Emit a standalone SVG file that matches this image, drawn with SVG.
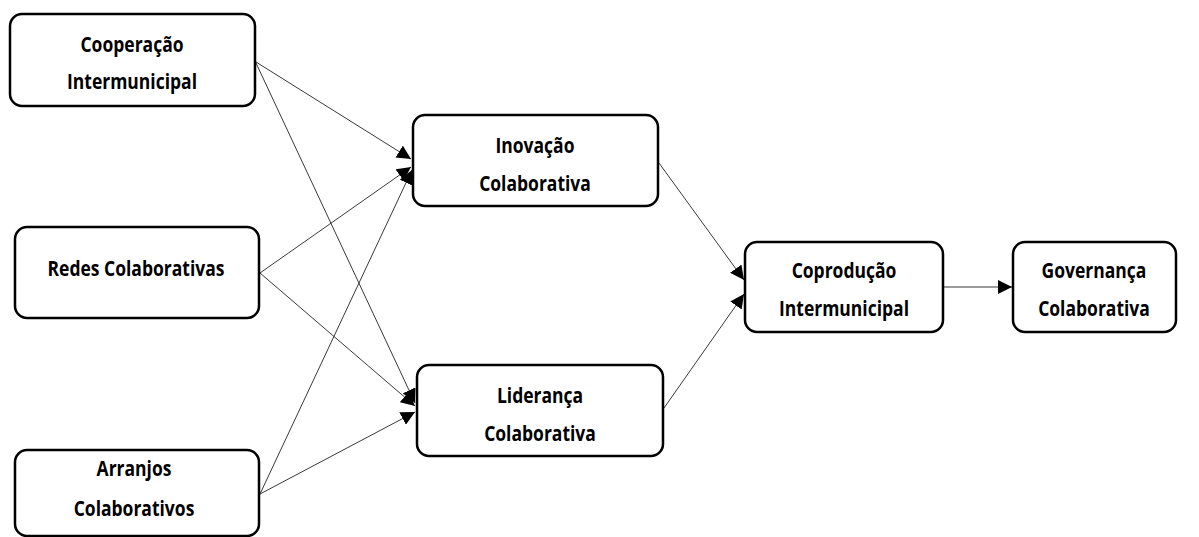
<svg xmlns="http://www.w3.org/2000/svg" width="1199" height="537" viewBox="0 0 1199 537">
  <style>
    .box { fill: #ffffff; stroke: #000000; stroke-width: 2.5; }
    .lbl { font-family: "Open Sans", "Noto Sans", "Liberation Sans", sans-serif; font-weight: bold; font-size: 17.5px; fill: #000000; text-anchor: middle; }
    .edge { stroke: #222222; stroke-width: 0.9; fill: none; marker-end: url(#arrow); }
  </style>
  <defs>
    <marker id="arrow" markerUnits="userSpaceOnUse" markerWidth="15" markerHeight="14" refX="14" refY="7" orient="auto">
      <path d="M0,0 L14,7 L0,14 Z" fill="#000000"/>
    </marker>
  </defs>
  <rect width="1199" height="537" fill="#ffffff"/>

  <g id="connectors">
    <line class="edge" x1="256" y1="62" x2="411" y2="159"/>
    <line class="edge" x1="256" y1="63" x2="415" y2="403"/>
    <line class="edge" x1="260" y1="273" x2="411" y2="167"/>
    <line class="edge" x1="260" y1="273" x2="415" y2="406"/>
    <line class="edge" x1="260" y1="494" x2="412" y2="170"/>
    <line class="edge" x1="260" y1="494" x2="415" y2="412"/>
    <line class="edge" x1="659" y1="163" x2="744" y2="280"/>
    <line class="edge" x1="664" y1="408" x2="744" y2="294"/>
    <line class="edge" x1="944" y1="287" x2="1012" y2="287"/>
  </g>

  <!-- labels are stretched slightly upright to give a tall, condensed face -->
  <g id="cooperacao">
    <rect class="box" x="10" y="14" width="245" height="92" rx="12"/>
    <text class="lbl" transform="translate(132 52) scale(1 1.18)">Cooperação</text>
    <text class="lbl" transform="translate(132 89) scale(1 1.18)">Intermunicipal</text>
  </g>
  <g id="redes">
    <rect class="box" x="15" y="227" width="244" height="91" rx="12"/>
    <text class="lbl" transform="translate(136 276) scale(1 1.18)">Redes Colaborativas</text>
  </g>
  <g id="arranjos">
    <rect class="box" x="15" y="450" width="244" height="86" rx="12"/>
    <text class="lbl" transform="translate(134 476) scale(1 1.18)">Arranjos</text>
    <text class="lbl" transform="translate(134 516) scale(1 1.18)">Colaborativos</text>
  </g>
  <g id="inovacao">
    <rect class="box" x="413" y="115" width="245" height="91" rx="12"/>
    <text class="lbl" transform="translate(535 153) scale(1 1.18)">Inovação</text>
    <text class="lbl" transform="translate(535 191) scale(1 1.18)">Colaborativa</text>
  </g>
  <g id="lideranca">
    <rect class="box" x="417" y="365" width="246" height="91" rx="12"/>
    <text class="lbl" transform="translate(540 403) scale(1 1.18)">Liderança</text>
    <text class="lbl" transform="translate(540 441) scale(1 1.18)">Colaborativa</text>
  </g>
  <g id="coproducao">
    <rect class="box" x="745" y="242" width="198" height="90" rx="12"/>
    <text class="lbl" transform="translate(844 278) scale(1 1.18)">Coprodução</text>
    <text class="lbl" transform="translate(844 316) scale(1 1.18)">Intermunicipal</text>
  </g>
  <g id="governanca">
    <rect class="box" x="1013" y="242" width="163" height="90" rx="12"/>
    <text class="lbl" transform="translate(1094 278) scale(1 1.18)">Governança</text>
    <text class="lbl" transform="translate(1094 316) scale(1 1.18)">Colaborativa</text>
  </g>
</svg>
